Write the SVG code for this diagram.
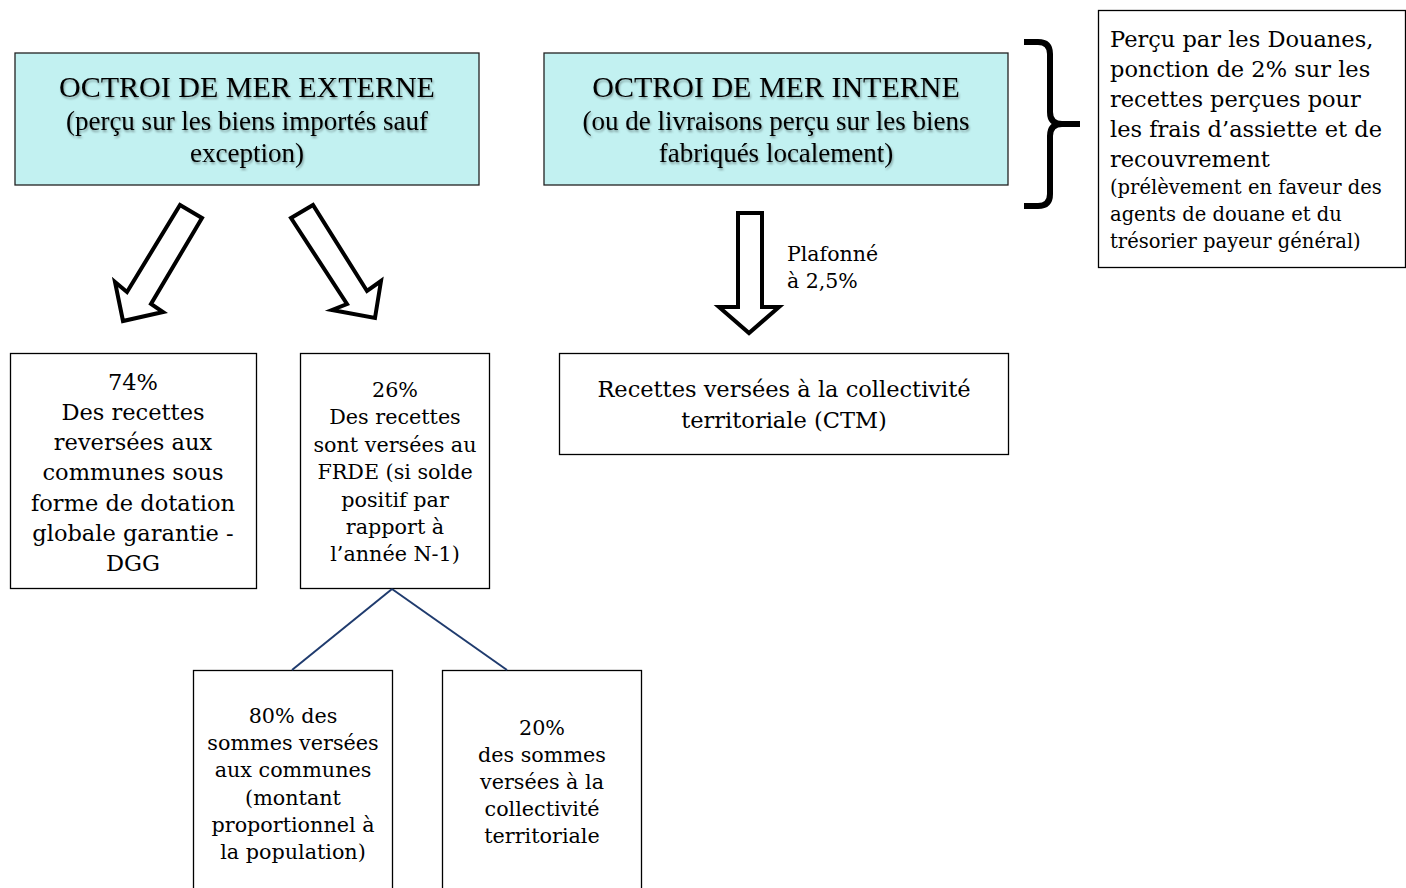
<svg xmlns="http://www.w3.org/2000/svg" width="1406" height="888" viewBox="0 0 1406 888">
<defs>
<filter id="sh" x="-5%" y="-20%" width="110%" height="150%">
<feDropShadow dx="1" dy="2" stdDeviation="1" flood-color="#000" flood-opacity="0.35"/>
</filter>
</defs>
<style>
.box{fill:#fff;stroke:#000;stroke-width:1.3}
.cyan{fill:#c2f1f1;stroke:#222;stroke-width:1.3}
text{font-family:"DejaVu Serif","Liberation Serif",serif;fill:#000}
.t{font-family:"Liberation Serif",serif;font-size:30px;text-anchor:middle}
.s{font-family:"Liberation Serif",serif;font-size:27px;text-anchor:middle}
.g{font-size:22.5px;text-anchor:middle}
.g2{font-size:20.7px;text-anchor:middle}
.r1{font-size:22.5px}
.r2{font-size:19.5px}
.arrow{fill:#fff;stroke:#000;stroke-width:4;stroke-linejoin:miter}
.link{stroke:#1f3b6e;stroke-width:2;fill:none}
</style>
<rect width="1406" height="888" fill="#fff"/>
<g id="externe">
<rect class="cyan" x="15" y="53" width="464" height="132"/>
<g filter="url(#sh)">
<text class="t" x="247" y="97">OCTROI DE MER EXTERNE</text>
<text class="s" x="247" y="130">(perçu sur les biens importés sauf</text>
<text class="s" x="247" y="162">exception)</text>
</g>
</g>
<g id="interne">
<rect class="cyan" x="544" y="53" width="464" height="132"/>
<g filter="url(#sh)">
<text class="t" x="776" y="97">OCTROI DE MER INTERNE</text>
<text class="s" x="776" y="130">(ou de livraisons perçu sur les biens</text>
<text class="s" x="776" y="162">fabriqués localement)</text>
</g>
</g>
<g id="douanes">
<rect class="box" x="1098.5" y="10.5" width="307" height="257"/>
<text class="r1" x="1110" y="47">Perçu par les Douanes,</text>
<text class="r1" x="1110" y="77">ponction de 2% sur les</text>
<text class="r1" x="1110" y="107">recettes perçues pour</text>
<text class="r1" x="1110" y="137">les frais d’assiette et de</text>
<text class="r1" x="1110" y="167">recouvrement</text>
<text class="r2" x="1110" y="194">(prélèvement en faveur des</text>
<text class="r2" x="1110" y="221">agents de douane et du</text>
<text class="r2" x="1110" y="248">trésorier payeur général)</text>
</g>
<g id="dgg">
<rect class="box" x="10.5" y="353.5" width="246" height="235"/>
<text class="g" x="133" y="390">74%</text>
<text class="g" x="133" y="420">Des recettes</text>
<text class="g" x="133" y="450">reversées aux</text>
<text class="g" x="133" y="480">communes sous</text>
<text class="g" x="133" y="511">forme de dotation</text>
<text class="g" x="133" y="541">globale garantie -</text>
<text class="g" x="133" y="571">DGG</text>
</g>
<g id="frde">
<rect class="box" x="300.5" y="353.5" width="189" height="235"/>
<text class="g2" x="395" y="397">26%</text>
<text class="g2" x="395" y="424">Des recettes</text>
<text class="g2" x="395" y="452">sont versées au</text>
<text class="g2" x="395" y="479">FRDE (si solde</text>
<text class="g2" x="395" y="507">positif par</text>
<text class="g2" x="395" y="534">rapport à</text>
<text class="g2" x="395" y="561">l’année N-1)</text>
</g>
<g id="ctm">
<rect class="box" x="559.5" y="353.5" width="449" height="101"/>
<text class="g" x="784" y="397">Recettes versées à la collectivité</text>
<text class="g" x="784" y="428">territoriale (CTM)</text>
</g>
<g id="communes">
<rect class="box" x="193.5" y="670.5" width="199" height="230"/>
<text class="g2" x="293" y="723">80% des</text>
<text class="g2" x="293" y="750">sommes versées</text>
<text class="g2" x="293" y="777">aux communes</text>
<text class="g2" x="293" y="805">(montant</text>
<text class="g2" x="293" y="832">proportionnel à</text>
<text class="g2" x="293" y="859">la population)</text>
</g>
<g id="collectivite">
<rect class="box" x="442.5" y="670.5" width="199" height="230"/>
<text class="g2" x="542" y="735">20%</text>
<text class="g2" x="542" y="762">des sommes</text>
<text class="g2" x="542" y="789">versées à la</text>
<text class="g2" x="542" y="816">collectivité</text>
<text class="g2" x="542" y="843">territoriale</text>
</g>
<g id="connectors">
<polygon class="arrow" points="180,205 202,218 151,304 163,312 123,321 115,282 127,292"/>
<polygon class="arrow" points="291,218 313,205 367,291 381,281 375,318 332,310 347,304"/>
<polygon class="arrow" points="738,213 762,213 762,307 779,307 749,333 719,307 738,307"/>
<text style="font-size:20.5px" x="787" y="261">Plafonné</text>
<text style="font-size:20.5px" x="787" y="288">à 2,5%</text>
<path d="M1024,42 L1038,42 Q1050,42 1050,54 L1050,112 Q1050,124 1062,124 L1080,124 L1062,124 Q1050,124 1050,136 L1050,194 Q1050,206 1038,206 L1024,206" fill="none" stroke="#000" stroke-width="6"/>
<line class="link" x1="392" y1="589" x2="292" y2="670"/>
<line class="link" x1="392" y1="589" x2="507" y2="670"/>
</g>
</svg>
